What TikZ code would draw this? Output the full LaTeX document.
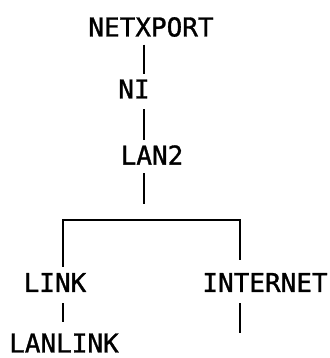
\documentclass[tikz,border=0pt]{standalone}
\usepackage{fontspec}
\newfontfamily\plotfont[FakeBold=1.2]{DejaVu Sans Mono}
\begin{document}
\begin{tikzpicture}[x=0.5pt,y=-0.5pt,line width=1.3pt,
    lbl/.style={inner sep=0pt,font=\plotfont\fontsize{13}{15}\selectfont},
    conn/.style={shorten <=3.25pt,shorten >=2.25pt}]
  \useasboundingbox (0,0) rectangle (330,358);
  \node[lbl] (netxport) at (151,27) {NETXPORT};
  \node[lbl] (ni) at (134,89) {NI};
  \node[lbl] (lan2) at (152,155) {LAN2};
  \node[lbl] (link) at (55,282.5) {LINK};
  \node[lbl] (inet) at (265,282.5) {INTERNET};
  \node[lbl] (lanlink) at (64,343) {LANLINK};
  \coordinate (trunk) at (144,0);
  \coordinate (lcol) at (63,0);
  \coordinate (rcol) at (240,0);
  \coordinate (fork) at (144,220);
  \coordinate (loose) at (240,333);
  \draw[conn] (netxport.south -| trunk) -- (ni.north -| trunk);
  \draw[conn,shorten <=4.75pt] (ni.south -| trunk) -- (lan2.north -| trunk);
  \draw[shorten <=3.75pt,shorten >=8pt] (lan2.south -| trunk) -- (fork);
  \draw[shorten <=2.5pt,shorten >=6pt] (link.north -| lcol) |- (fork) -| (inet.north -| rcol);
  \draw[shorten <=5pt,shorten >=5pt] (link.south -| lcol) -- (lanlink.north -| lcol);
  \draw[shorten <=5pt] (inet.south -| rcol) -- (loose);
\end{tikzpicture}
\end{document}
